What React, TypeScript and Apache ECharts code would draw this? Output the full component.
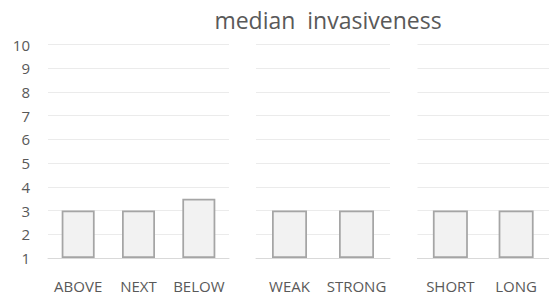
import React, { useEffect, useRef } from "react";
import * as echarts from "echarts";

const title = "median  invasiveness";
const groupACategories = ["ABOVE", "NEXT", "BELOW"];
const groupAValues = [3, 3, 3.5];
const groupBCategories = ["WEAK", "STRONG"];
const groupBValues = [3, 3];
const groupCCategories = ["SHORT", "LONG"];
const groupCValues = [3, 3];
const yMin = 1;
const yMax = 10;

const FONT = "'Open Sans', sans-serif";
const TEXT = "#595959";

export default function App() {
  const ref = useRef<HTMLDivElement>(null);
  useEffect(() => {
    if (!ref.current) return;
    const chart = echarts.init(ref.current, undefined, { renderer: "svg" });
    const groups = [
      { cats: groupACategories, vals: groupAValues, grid: { left: 48, width: 181 }, bw: 33 },
      { cats: groupBCategories, vals: groupBValues, grid: { left: 256, width: 134 }, bw: 35 },
      { cats: groupCCategories, vals: groupCValues, grid: { left: 417.5, width: 132 }, bw: 35 },
    ];
    chart.setOption({
      animation: false,
      backgroundColor: "#ffffff",
      title: {
        text: title,
        left: 323,
        textAlign: "center",
        top: 3,
        textStyle: { fontFamily: FONT, fontSize: 23, fontWeight: "normal", color: TEXT },
      },
      grid: groups.map((g) => ({ left: g.grid.left, width: g.grid.width, top: 44.5, bottom: 37 })),
      xAxis: groups.map((g, i) => ({
        type: "category",
        gridIndex: i,
        data: g.cats,
        axisTick: { show: false },
        axisLine: { show: true, lineStyle: { color: "#d9d9d9", width: 1 } },
        axisLabel: { color: TEXT, fontFamily: FONT, fontSize: 15, margin: 20, interval: 0 },
      })),
      yAxis: groups.map((g, i) => ({
        type: "value",
        gridIndex: i,
        min: yMin,
        max: yMax,
        interval: 1,
        startValue: yMin,
        axisLine: { show: false },
        axisTick: { show: false },
        axisLabel: {
          show: i === 0,
          color: TEXT,
          fontFamily: FONT,
          fontSize: 15,
          margin: 18,
        },
        splitLine: { show: true, lineStyle: { color: "#ebebeb", width: 1 } },
      })),
      series: groups.map((g, i) => ({
        type: "bar",
        xAxisIndex: i,
        yAxisIndex: i,
        data: g.vals,
        barWidth: g.bw,
        clip: true,
        itemStyle: { color: "#f2f2f2", borderColor: "#a5a5a5", borderWidth: 1.75 },
      })),
    });
    return () => chart.dispose();
  }, []);
  return <div ref={ref} style={{ width: 549, height: 295, position: "absolute", left: 0, top: 0 }} />;
}
